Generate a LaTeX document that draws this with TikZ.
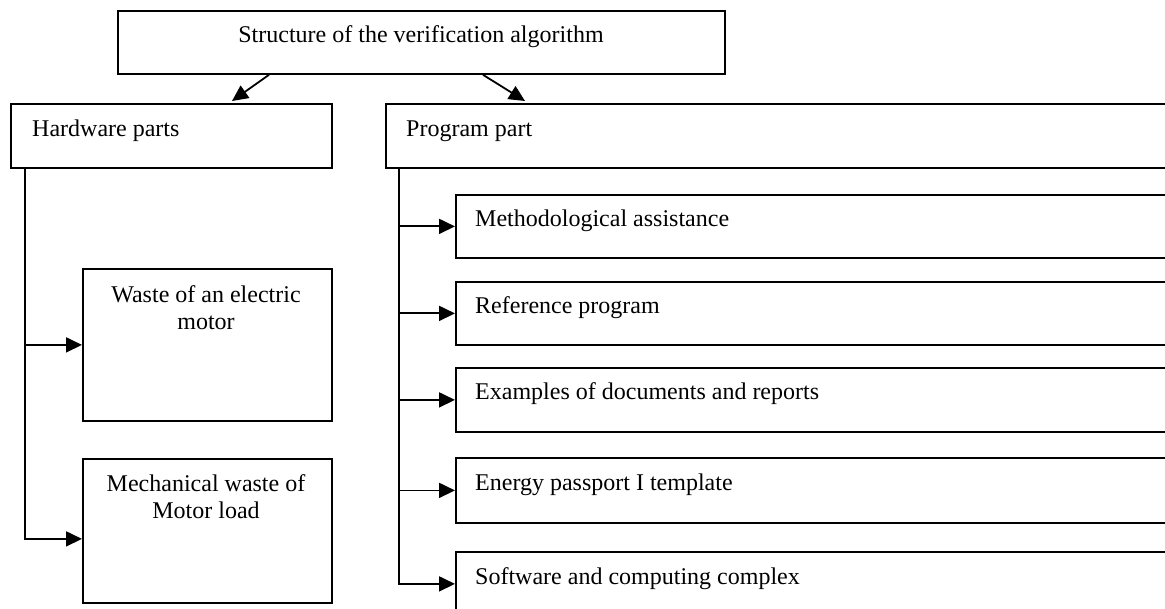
\documentclass[tikz,border=0pt]{standalone}
\usepackage{fontspec}
\setmainfont{Liberation Serif}
\usetikzlibrary{arrows.meta,calc}
\tikzset{
  box/.style={draw, line width=1.8pt, inner sep=0pt, anchor=north west},
  lbl/.style={anchor=base west, inner sep=0pt, font=\fontsize{24}{27}\selectfont},
  tlbl/.style={anchor=base, inner sep=0pt, font=\fontsize{24}{27}\selectfont},
  clbl/.style={anchor=north, inner sep=0pt, align=center, font=\fontsize{24}{27}\selectfont},
  arr/.style={line width=1.8pt, -{Triangle[length=16pt,width=15pt]}},
}
\begin{document}
\begin{tikzpicture}[x=1pt,y=1pt]
\useasboundingbox (0,0) rectangle (1165,-609);
\clip (0,0) rectangle (1165,-609);
% boxes
\node[box, minimum width=607pt, minimum height=63pt] (top) at (117,-10) {};
\node[box, minimum width=321pt, minimum height=64pt] (hw) at (10,-103) {};
\node[box, minimum width=800pt, minimum height=64pt] (prog) at (385,-103) {};
\node[box, minimum width=249pt, minimum height=152pt] (waste) at (82,-268) {};
\node[box, minimum width=249pt, minimum height=144pt] (mech) at (82,-458) {};
\node[box, minimum width=730pt, minimum height=63pt] (m1) at (455,-194) {};
\node[box, minimum width=730pt, minimum height=63pt] (m2) at (455,-281) {};
\node[box, minimum width=730pt, minimum height=64pt] (m3) at (455,-367) {};
\node[box, minimum width=730pt, minimum height=65pt] (m4) at (455,-457) {};
\node[box, minimum width=730pt, minimum height=64pt] (m5) at (455,-551) {};
% labels
\node[tlbl] (ttop) at (421,-43) {Structure of the verification algorithm};
\node[lbl] (thw) at (32,-137) {Hardware parts};
\node[lbl] (tprog) at (406,-137) {Program part};
\node[clbl] (twaste) at (206,-285) {Waste of an electric\\motor};
\node[clbl] (tmech) at (206,-474) {Mechanical waste of\\Motor load};
\node[lbl] (tm1) at (475,-227) {Methodological assistance};
\node[lbl] (tm2) at (475,-314) {Reference program};
\node[lbl] (tm3) at (475,-400) {Examples of documents and reports};
\node[lbl] (tm4) at (475,-490) {Energy passport I template};
\node[lbl] (tm5) at (475,-584) {Software and computing complex};
% connectors
\draw[arr] ([xshift=152pt]top.south west) -- ([xshift=222pt,yshift=2pt]hw.north west);
\draw[arr] ([xshift=366pt]top.south west) -- ([xshift=140pt,yshift=2pt]prog.north west);
\draw[arr] ([xshift=15pt]hw.south west) |- (waste.west);
\draw[arr] ([xshift=15pt]hw.south west) |- ([yshift=-8pt]mech.west);
\draw[arr] ([xshift=14pt]prog.south west) |- (m1.west);
\draw[arr] ([xshift=14pt]prog.south west) |- (m2.west);
\draw[arr] ([xshift=14pt]prog.south west) |- (m3.west);
\draw[arr] ([xshift=14pt]prog.south west) |- (m4.west);
\draw[arr] ([xshift=14pt]prog.south west) |- (m5.west);
\end{tikzpicture}
\end{document}
